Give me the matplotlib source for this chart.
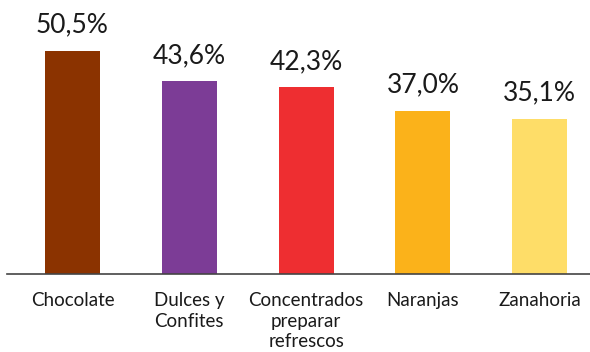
import matplotlib
matplotlib.use("Agg")
import matplotlib.pyplot as plt

categories = ["Chocolate", "Dulces y\nConfites", "Concentrados\npreparar\nrefrescos", "Naranjas", "Zanahoria"]
values = [50.5, 43.6, 42.3, 37.0, 35.1]
labels = ["50,5%", "43,6%", "42,3%", "37,0%", "35,1%"]
colors = ["#8B3300", "#7C3C96", "#EE2E31", "#FBB21A", "#FEDD68"]

plt.rcParams["font.family"] = ["Lato", "DejaVu Sans"]

fig = plt.figure(figsize=(5.9, 3.52), dpi=100)
ax = fig.add_axes([0.012, 0.2216, 0.988, 0.7784])

x = list(range(len(categories)))
bars = ax.bar(x, values, width=0.47, color=colors)

# percentage over each bar
for b, lab in zip(bars, labels):
    ax.text(b.get_x() + b.get_width() / 2, b.get_height() + 3.0, lab,
            ha="center", va="bottom", fontsize=19, color="#1a1a1a")

ax.set_xlim(-0.56, 4.43)
ax.set_ylim(0, 62.05)
ax.set_xticks(x)
ax.set_xticklabels(categories, fontsize=13.5, color="#1a1a1a", linespacing=1.25)
ax.tick_params(axis="x", length=0, pad=13)
ax.set_yticks([])

for side in ["top", "right", "left"]:
    ax.spines[side].set_visible(False)
ax.spines["bottom"].set_color("#444444")
ax.spines["bottom"].set_linewidth(1.2)

fig.savefig("out.png", dpi=100)
